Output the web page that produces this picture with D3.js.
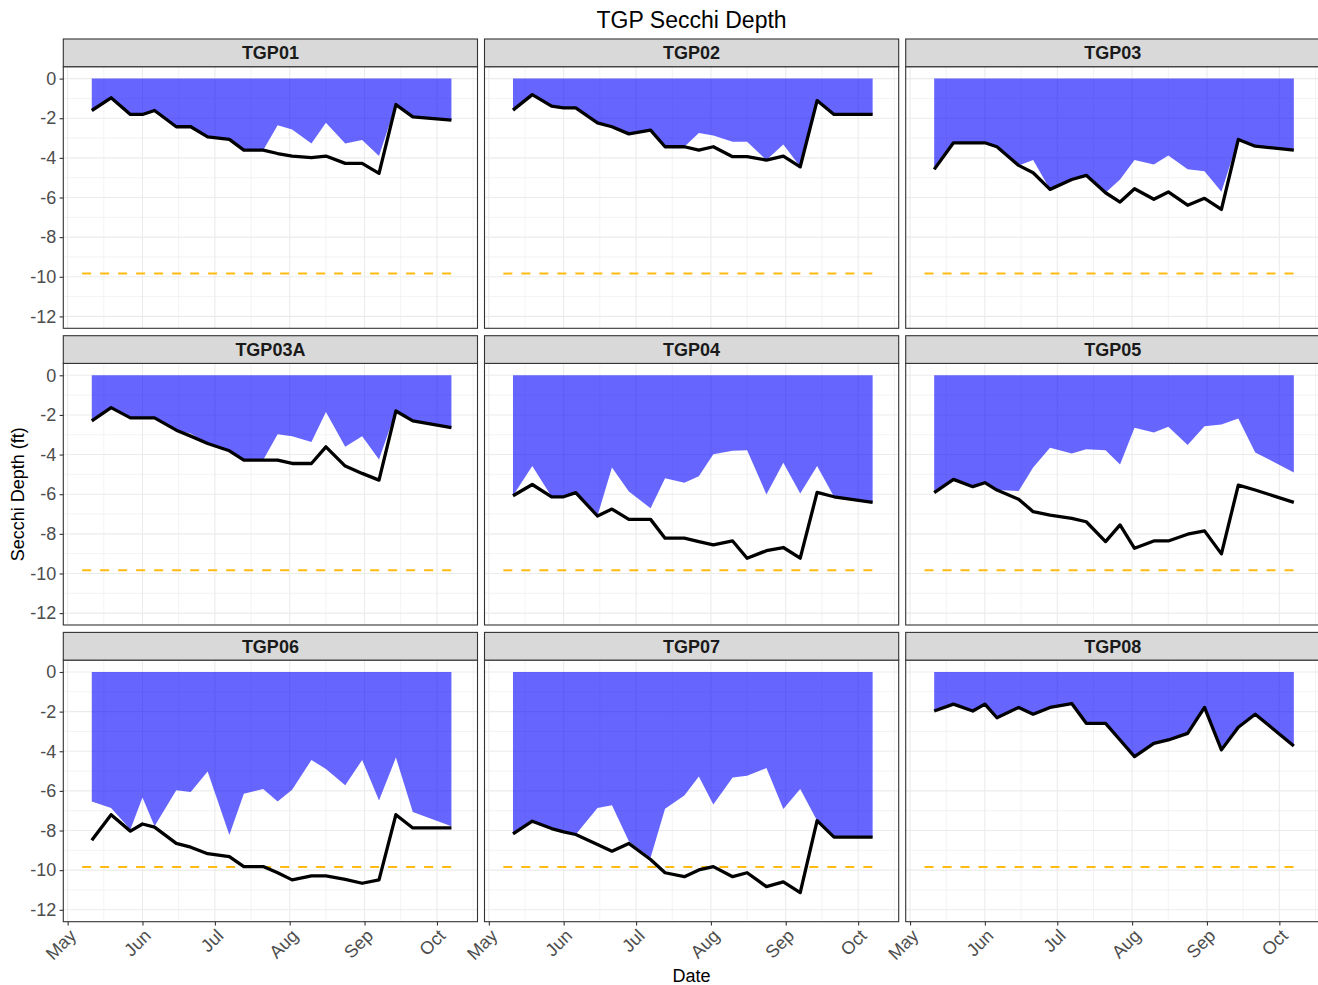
<!DOCTYPE html>
<html>
<head>
<meta charset="utf-8">
<script src="https://cdn.jsdelivr.net/npm/d3@7"></script>
<style>
  body { margin: 0; background: #fff; }
  svg { display: block; font-family: "Liberation Sans", Arial, sans-serif; }
</style>
</head>
<body>
<svg id="chart" width="1318" height="985"></svg>
<script>
// ---- data -------------------------------------------------------------
const sites = ["TGP01", "TGP02", "TGP03", "TGP03A", "TGP04", "TGP05", "TGP06", "TGP07", "TGP08"];

const sampleDates = [
  "2023-05-11", "2023-05-19", "2023-05-27", "2023-06-01", "2023-06-06", "2023-06-15",
  "2023-06-21", "2023-06-28", "2023-07-07", "2023-07-13", "2023-07-21", "2023-07-27",
  "2023-08-02", "2023-08-10", "2023-08-16", "2023-08-24", "2023-08-31", "2023-09-07",
  "2023-09-14", "2023-09-21", "2023-10-07"
];

// reference depth (3 m) and the date span it is drawn over
const refDepthFt = -9.84;
const refSpan = ["2023-05-07", "2023-10-10"];

const yTicks = [0, -2, -4, -6, -8, -10, -12];
const yMinorTicks = [-1, -3, -5, -7, -9, -11];
const monthTicks = ["2023-05-01", "2023-06-01", "2023-07-01", "2023-08-01", "2023-09-01", "2023-10-01"];
const monthLabels = ["May", "Jun", "Jul", "Aug", "Sep", "Oct"];
const monthMinorTicks = ["2023-05-16", "2023-06-16", "2023-07-16", "2023-08-16", "2023-09-16", "2023-10-16"];

// total depth (black line) and Secchi depth (blue area), feet, negative down
const depthTGP01  = [-1.61,-0.97,-1.81,-1.81,-1.61,-2.43,-2.43,-2.94,-3.07,-3.61,-3.61,-3.78,-3.91,-3.99,-3.91,-4.28,-4.28,-4.78,-1.31,-1.93,-2.10];
const secchiTGP01 = [-1.61,-0.97,-1.81,-1.81,-1.61,-2.43,-2.43,-2.94,-3.07,-3.61,-3.61,-2.35,-2.57,-3.27,-2.23,-3.27,-3.10,-3.91,-1.31,-1.93,-2.10];

const depthTGP02  = [-1.59,-0.81,-1.39,-1.48,-1.48,-2.23,-2.43,-2.79,-2.60,-3.44,-3.44,-3.61,-3.44,-3.94,-3.94,-4.11,-3.91,-4.45,-1.11,-1.81,-1.81];
const secchiTGP02 = [-1.59,-0.81,-1.39,-1.48,-1.48,-2.23,-2.43,-2.79,-2.60,-3.44,-3.44,-2.74,-2.87,-3.19,-3.19,-4.11,-3.32,-4.45,-1.11,-1.81,-1.81];

const depthTGP03  = [-4.58,-3.24,-3.24,-3.24,-3.44,-4.38,-4.75,-5.59,-5.09,-4.88,-5.76,-6.23,-5.56,-6.09,-5.72,-6.39,-6.04,-6.60,-3.07,-3.41,-3.61];
const secchiTGP03 = [-4.58,-3.24,-3.24,-3.24,-3.44,-4.38,-4.11,-5.59,-5.09,-4.88,-5.76,-5.09,-4.11,-4.33,-3.88,-4.58,-4.67,-5.71,-3.07,-3.41,-3.61];

const depthTGP03A  = [-2.30,-1.63,-2.15,-2.15,-2.15,-2.77,-3.07,-3.44,-3.81,-4.28,-4.28,-4.28,-4.45,-4.45,-3.61,-4.58,-4.95,-5.29,-1.80,-2.30,-2.64];
const secchiTGP03A = [-2.30,-1.63,-2.15,-2.15,-2.15,-2.77,-2.94,-3.44,-3.81,-4.28,-4.28,-2.97,-3.07,-3.36,-1.85,-3.61,-3.07,-4.25,-1.80,-2.30,-2.64];

const depthTGP04  = [-6.08,-5.51,-6.13,-6.13,-5.92,-7.10,-6.75,-7.27,-7.27,-8.22,-8.22,-8.39,-8.56,-8.36,-9.23,-8.85,-8.69,-9.23,-5.91,-6.13,-6.41];
const secchiTGP04 = [-6.08,-4.58,-6.13,-6.13,-5.92,-7.10,-4.65,-5.87,-6.71,-5.20,-5.42,-5.09,-3.98,-3.81,-3.78,-6.01,-4.41,-5.96,-4.58,-6.13,-6.41];

const depthTGP05  = [-5.92,-5.25,-5.62,-5.42,-5.79,-6.26,-6.88,-7.05,-7.22,-7.39,-8.39,-7.55,-8.73,-8.36,-8.36,-8.02,-7.85,-9.01,-5.54,-5.79,-6.41];
const secchiTGP05 = [-5.92,-5.25,-5.62,-5.42,-5.79,-5.84,-4.65,-3.66,-3.94,-3.73,-3.78,-4.50,-2.65,-2.89,-2.60,-3.52,-2.57,-2.48,-2.18,-3.89,-4.90];

const depthTGP06  = [-8.49,-7.20,-8.03,-7.67,-7.83,-8.65,-8.84,-9.17,-9.32,-9.82,-9.82,-10.13,-10.49,-10.29,-10.29,-10.46,-10.66,-10.49,-7.20,-7.87,-7.87];
const secchiTGP06 = [-6.53,-6.86,-7.95,-6.33,-7.78,-5.97,-6.06,-5.02,-8.23,-6.14,-5.91,-6.53,-5.94,-4.44,-4.89,-5.72,-4.44,-6.49,-4.32,-7.06,-7.78];

const depthTGP07  = [-8.17,-7.53,-7.90,-8.07,-8.20,-8.70,-9.04,-8.65,-9.46,-10.13,-10.33,-9.99,-9.82,-10.33,-10.13,-10.83,-10.59,-11.13,-7.50,-8.33,-8.33];
const secchiTGP07 = [-8.17,-7.53,-7.90,-8.07,-8.20,-6.86,-6.73,-8.54,-9.37,-6.90,-6.23,-5.27,-6.69,-5.32,-5.24,-4.85,-6.91,-5.91,-7.50,-8.33,-8.33];

const depthTGP08  = [-1.97,-1.62,-1.97,-1.62,-2.31,-1.79,-2.13,-1.79,-1.59,-2.59,-2.59,-3.43,-4.27,-3.60,-3.43,-3.10,-1.79,-3.93,-2.79,-2.13,-3.73];
const secchiTGP08 = [-1.97,-1.62,-1.97,-1.62,-2.31,-1.79,-2.13,-1.79,-1.59,-2.59,-2.59,-3.43,-4.27,-3.60,-3.43,-3.10,-1.79,-3.93,-2.79,-2.13,-3.73];

const siteDepth  = [depthTGP01, depthTGP02, depthTGP03, depthTGP03A, depthTGP04, depthTGP05, depthTGP06, depthTGP07, depthTGP08];
const siteSecchi = [secchiTGP01, secchiTGP02, secchiTGP03, secchiTGP03A, secchiTGP04, secchiTGP05, secchiTGP06, secchiTGP07, secchiTGP08];

// ---- layout -----------------------------------------------------------
const parse = d3.timeParse("%Y-%m-%d");
const svg = d3.select("#chart");

const colLeft0 = 63.3, colStep = 421.2, panelW = 414.2;
const rowTop0 = 39, rowStep = 296.7, stripH = 27.7, panelH = 261.6;
const tickLen = 3.7;
const tickFont = 18;

const gridCol = "#EBEBEB";
const borderCol = "#333333";

// shared scales (fixed facets)
const refStart = parse(refSpan[0]), refEnd = parse(refSpan[1]);
const spanMs = refEnd - refStart;
const x = d3.scaleTime()
  .domain([new Date(+refStart - 0.05 * spanMs), new Date(+refEnd + 0.05 * spanMs)])
  .range([0, panelW]);
const yMin = -12, yMax = 0, yPad = 0.05 * (yMax - yMin);
const y = d3.scaleLinear().domain([yMin - yPad, yMax + yPad]).range([panelH, 0]);

const rows = sites.map((s, i) => sampleDates.map((d, j) => ({
  date: parse(d), depth: siteDepth[i][j], secchi: siteSecchi[i][j]
})));

const area = d3.area().x(d => x(d.date)).y0(y(0)).y1(d => y(d.secchi));
const line = d3.line().x(d => x(d.date)).y(d => y(d.depth));
const refLine = d3.line().x(d => x(d)).y(() => y(refDepthFt));

// title
svg.append("text")
  .attr("x", colLeft0 + (2 * colStep + panelW) / 2)
  .attr("y", 28)
  .attr("text-anchor", "middle")
  .attr("font-size", 23)
  .attr("fill", "#000")
  .text("TGP Secchi Depth");

sites.forEach((site, i) => {
  const col = i % 3, row = Math.floor(i / 3);
  const left = colLeft0 + col * colStep;
  const stripTop = rowTop0 + row * rowStep;
  const top = stripTop + stripH;
  const g = svg.append("g").attr("transform", `translate(${left},${top})`);

  // grid
  g.append("g").selectAll("line").data(yMinorTicks).join("line")
    .attr("x1", 0).attr("x2", panelW)
    .attr("y1", d => y(d)).attr("y2", d => y(d))
    .attr("stroke", gridCol).attr("stroke-width", 0.6);
  g.append("g").selectAll("line").data(monthMinorTicks.map(parse).filter(d => d >= x.domain()[0] && d <= x.domain()[1])).join("line")
    .attr("y1", 0).attr("y2", panelH)
    .attr("x1", d => x(d)).attr("x2", d => x(d))
    .attr("stroke", gridCol).attr("stroke-width", 0.6);
  g.append("g").selectAll("line").data(yTicks).join("line")
    .attr("x1", 0).attr("x2", panelW)
    .attr("y1", d => y(d)).attr("y2", d => y(d))
    .attr("stroke", gridCol).attr("stroke-width", 1.1);
  g.append("g").selectAll("line").data(monthTicks.map(parse)).join("line")
    .attr("y1", 0).attr("y2", panelH)
    .attr("x1", d => x(d)).attr("x2", d => x(d))
    .attr("stroke", gridCol).attr("stroke-width", 1.1);

  // Secchi area
  g.append("path").datum(rows[i])
    .attr("d", area)
    .attr("fill", "blue").attr("fill-opacity", 0.6);

  // 3 m reference line
  g.append("path").datum([refStart, refEnd])
    .attr("d", refLine)
    .attr("fill", "none")
    .attr("stroke", "#FFBB12")
    .attr("stroke-width", 2)
    .attr("stroke-dasharray", "9,9");

  // total depth line
  g.append("path").datum(rows[i])
    .attr("d", line)
    .attr("fill", "none")
    .attr("stroke", "#000")
    .attr("stroke-width", 3.3)
    .attr("stroke-linejoin", "round")
    .attr("stroke-linecap", "butt");

  // panel border
  g.append("rect")
    .attr("x", 0).attr("y", 0).attr("width", panelW).attr("height", panelH)
    .attr("fill", "none").attr("stroke", borderCol).attr("stroke-width", 1.1);

  // strip
  svg.append("rect")
    .attr("x", left).attr("y", stripTop).attr("width", panelW).attr("height", stripH)
    .attr("fill", "#D9D9D9").attr("stroke", borderCol).attr("stroke-width", 1.1);
  svg.append("text")
    .attr("x", left + panelW / 2).attr("y", stripTop + stripH / 2)
    .attr("dy", "0.36em")
    .attr("text-anchor", "middle")
    .attr("font-size", 18).attr("font-weight", "bold")
    .attr("fill", "#1A1A1A")
    .text(site);

  // y axis on the left column
  if (col === 0) {
    const ay = g.append("g").call(
      d3.axisLeft(y).tickValues(yTicks).tickSize(tickLen).tickPadding(3.3).tickFormat(d3.format("d"))
    );
    ay.select(".domain").remove();
    ay.selectAll(".tick line").attr("stroke", borderCol).attr("stroke-width", 1.1);
    ay.selectAll(".tick text")
      .attr("fill", "#4D4D4D").attr("font-size", tickFont)
      .attr("font-family", "Liberation Sans, Arial, sans-serif")
      .text(d => d === 0 ? "0" : "-" + Math.abs(d));
  }

  // x axis on the bottom row
  if (row === 2) {
    const ax = g.append("g").attr("transform", `translate(0,${panelH})`).call(
      d3.axisBottom(x).tickValues(monthTicks.map(parse)).tickSize(tickLen)
        .tickFormat((d, k) => monthLabels[k])
    );
    ax.select(".domain").remove();
    ax.selectAll(".tick line").attr("stroke", borderCol).attr("stroke-width", 1.1);
    ax.selectAll(".tick text")
      .attr("fill", "#4D4D4D").attr("font-size", tickFont)
      .attr("font-family", "Liberation Sans, Arial, sans-serif")
      .attr("x", 0).attr("y", 0)
      .attr("dy", "0.72em")
      .attr("text-anchor", "end")
      .attr("transform", `translate(0,${tickLen + 2.3}) rotate(-45)`);
  }
});

// axis titles
svg.append("text")
  .attr("x", colLeft0 + (2 * colStep + panelW) / 2)
  .attr("y", 982)
  .attr("text-anchor", "middle")
  .attr("font-size", 18).attr("fill", "#000")
  .text("Date");

const panelsTop = rowTop0 + stripH, panelsBottom = rowTop0 + 2 * rowStep + stripH + panelH;
svg.append("text")
  .attr("transform", `translate(24,${(panelsTop + panelsBottom) / 2}) rotate(-90)`)
  .attr("text-anchor", "middle")
  .attr("font-size", 18).attr("fill", "#000")
  .text("Secchi Depth (ft)");
</script>
</body>
</html>
